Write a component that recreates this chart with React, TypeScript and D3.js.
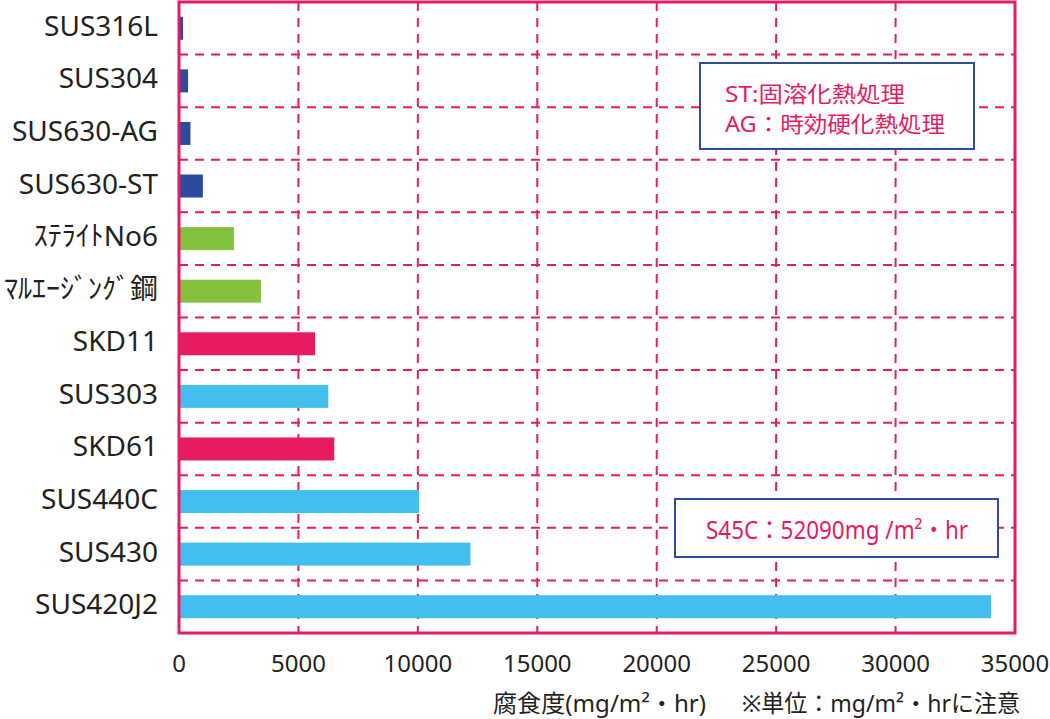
import * as d3 from 'd3';
import { useEffect, useRef } from 'react';

// 腐食度 (mg/m2・hr)
const materials = [
  'SUS316L',
  'SUS304',
  'SUS630-AG',
  'SUS630-ST',
  'ｽﾃﾗｲﾄNo6',
  'ﾏﾙｴｰｼﾞﾝｸﾞ鋼',
  'SKD11',
  'SUS303',
  'SKD61',
  'SUS440C',
  'SUS430',
  'SUS420J2',
];
const corrosion = [170, 380, 480, 1000, 2300, 3430, 5700, 6250, 6500, 10050, 12200, 34000];
const groups = ['a', 'a', 'a', 'a', 'b', 'b', 'c', 'd', 'c', 'd', 'd', 'd'];
const xTicks = [0, 5000, 10000, 15000, 20000, 25000, 30000, 35000];

const WIDTH = 1050;
const HEIGHT = 719;
const PINK = '#e61b62';
const INK = '#231f20';
const FONT = "'Noto Sans', 'Noto Sans CJK JP', sans-serif";

function App() {
  const svgElement = useRef<SVGSVGElement | null>(null);

  useEffect(() => {
    if (!svgElement.current) return;
    const svg = d3.select(svgElement.current);
    svg.selectAll('*').remove();

    const left = 179;
    const right = 1015;
    const top = 2;
    const bottom = 633;

    const x = d3.scaleLinear().domain([0, 35000]).range([left, right]);
    const y = d3.scaleBand<string>().domain(materials).range([top, bottom]).padding(0);
    const color = d3
      .scaleOrdinal<string, string>()
      .domain(['a', 'b', 'c', 'd'])
      .range(['#2c4a9e', '#84c13d', '#e61b62', '#43bfed']);

    const barH = 23;
    const g = svg.append('g');

    // grid
    g.selectAll('.vgrid')
      .data(xTicks.slice(1, -1))
      .join('line')
      .attr('x1', (d) => x(d))
      .attr('x2', (d) => x(d))
      .attr('y1', top)
      .attr('y2', bottom)
      .attr('stroke', PINK)
      .attr('stroke-width', 2)
      .attr('stroke-dasharray', '9,7');

    g.selectAll('.hgrid')
      .data(materials.slice(1))
      .join('line')
      .attr('x1', left)
      .attr('x2', right)
      .attr('y1', (d) => y(d)!)
      .attr('y2', (d) => y(d)!)
      .attr('stroke', PINK)
      .attr('stroke-width', 2)
      .attr('stroke-dasharray', '9,7');

    // bars
    g.selectAll('.bar')
      .data(materials)
      .join('rect')
      .attr('x', x(0))
      .attr('y', (d) => y(d)! + y.bandwidth() / 2 - barH / 2)
      .attr('width', (d, i) => x(corrosion[i]) - x(0))
      .attr('height', barH)
      .attr('fill', (d, i) => color(groups[i]));

    // frame
    g.append('rect')
      .attr('x', left)
      .attr('y', top)
      .attr('width', right - left)
      .attr('height', bottom - top)
      .attr('fill', 'none')
      .attr('stroke', PINK)
      .attr('stroke-width', 3);

    // category labels
    g.selectAll('.ylab')
      .data(materials)
      .join('text')
      .attr('x', 158)
      .attr('y', (d) => y(d)! + y.bandwidth() / 2 + 7.5)
      .attr('text-anchor', 'end')
      .attr('font-family', FONT)
      .attr('font-size', 28)
      .attr('fill', INK)
      .text((d) => d);

    // x tick labels
    g.selectAll('.xlab')
      .data(xTicks)
      .join('text')
      .attr('x', (d) => x(d))
      .attr('y', 672)
      .attr('text-anchor', 'middle')
      .attr('font-family', FONT)
      .attr('font-size', 24)
      .attr('fill', INK)
      .text((d) => String(d));

    const note = (tx: number, ty: number, len: number, size: number, fill: string, s: string) =>
      g
        .append('text')
        .attr('x', tx)
        .attr('y', ty)
        .attr('font-family', FONT)
        .attr('font-size', size)
        .attr('fill', fill)
        .attr('textLength', len)
        .attr('lengthAdjust', 'spacingAndGlyphs')
        .text(s);

    // axis title
    note(493, 712, 213, 24, INK, '腐食度(mg/m²・hr)');
    note(742, 712, 278, 24, INK, '※単位：mg/m²・hrに注意');

    // note box 1
    g.append('rect')
      .attr('x', 700)
      .attr('y', 63)
      .attr('width', 274)
      .attr('height', 86)
      .attr('fill', '#fff')
      .attr('stroke', '#2b4c9c')
      .attr('stroke-width', 2);
    note(725, 102, 180, 22, PINK, 'ST:固溶化熱処理');
    note(725, 132, 220, 22, PINK, 'AG：時効硬化熱処理');

    // note box 2
    g.append('rect')
      .attr('x', 675)
      .attr('y', 499)
      .attr('width', 323)
      .attr('height', 58)
      .attr('fill', '#fff')
      .attr('stroke', '#2b4c9c')
      .attr('stroke-width', 2);
    note(706, 539, 262, 25, PINK, 'S45C：52090mg /m²・hr');
  }, []);

  return (
    <svg
      ref={svgElement}
      width={WIDTH}
      height={HEIGHT}
      style={{ position: 'absolute', left: 0, top: 0, background: '#fff', display: 'block' }}
    />
  );
}

export default App;
